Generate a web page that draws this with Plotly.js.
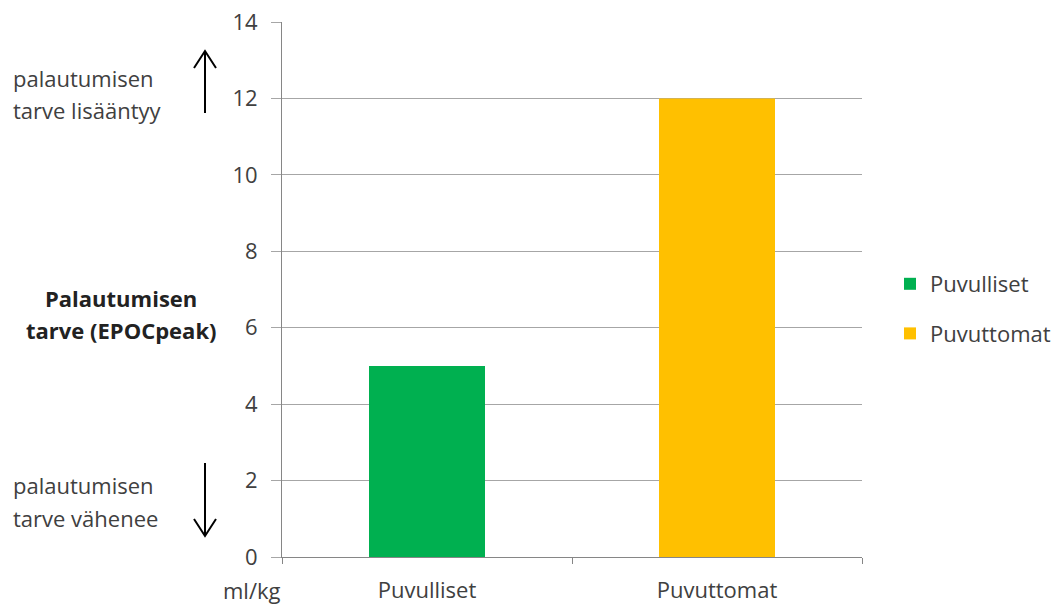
<!DOCTYPE html>
<html>
<head>
<meta charset="utf-8">
<script src="https://cdn.plot.ly/plotly-3.0.1.min.js"></script>
<style>
  html, body { margin: 0; padding: 0; background: #fff; }
  #chart { width: 1064px; height: 605px; }
</style>
</head>
<body>
<div id="chart"></div>
<script>
// EPOCpeak (ml/kg) by group
const categories = ['Puvulliset', 'Puvuttomat'];
const epocValues = [5, 12];
const seriesNames = ['Puvulliset', 'Puvuttomat'];
const seriesColors = ['#00B050', '#FFC000'];
const yTicks = [0, 2, 4, 6, 8, 10, 12, 14];

// plot area in pixels, used to place the side notes and arrows
const PL = 282, PR = 862, PT = 22, PB = 557;
const px = v => (v - PL) / (PR - PL);
const py = v => (PB - v) / (PB - PT);

const FONT = '"Open Sans", "Liberation Sans", sans-serif';
const TXT = '#404040';
const FS = 22;

const traces = categories.map((c, i) => ({
  type: 'bar',
  x: [c],
  y: [epocValues[i]],
  name: seriesNames[i],
  legendgroup: 'g' + i,
  marker: { color: seriesColors[i], line: { width: 0 } },
  width: 0.4,
  hoverinfo: 'x+y'
}));

function note(text, x, y, anchor, bold) {
  return {
    xref: 'paper', yref: 'paper', x: px(x), y: py(y),
    xanchor: anchor, yanchor: 'middle', showarrow: false,
    text: bold ? '<b>' + text + '</b>' : text,
    font: { family: FONT, size: FS, color: bold ? '#222' : TXT }
  };
}

function arrowShapes(x, yTail, yHead) {
  const dir = yHead < yTail ? 1 : -1;
  const hy = yHead + dir * 17;
  const line = { color: '#000', width: 2 };
  return [
    { type: 'line', xref: 'paper', yref: 'paper', x0: px(x), x1: px(x), y0: py(yTail), y1: py(yHead), line },
    { type: 'path', xref: 'paper', yref: 'paper',
      path: `M${px(x - 11)},${py(hy)} L${px(x)},${py(yHead)} L${px(x + 11)},${py(hy)}`, line }
  ];
}

const layout = {
  width: 1064, height: 605,
  margin: { l: PL, r: 1064 - PR, t: PT, b: 605 - PB, autoexpand: false },
  paper_bgcolor: '#fff', plot_bgcolor: '#fff',
  font: { family: FONT, size: FS, color: TXT },
  barmode: 'overlay',
  showlegend: true,
  legend: {
    x: px(890), xanchor: 'left', y: py(309), yanchor: 'middle',
    font: { family: FONT, size: FS, color: TXT },
    tracegroupgap: 18, bgcolor: 'rgba(0,0,0,0)'
  },
  xaxis: {
    type: 'category', categoryorder: 'array', categoryarray: categories,
    showline: true, linecolor: '#868686', linewidth: 1,
    ticks: 'outside', tickson: 'boundaries', ticklen: 6, tickcolor: '#868686',
    showgrid: false, zeroline: false,
    ticklabelstandoff: 14,
    tickfont: { family: FONT, size: FS, color: TXT }
  },
  yaxis: {
    range: [0, 14], tickvals: yTicks, ticktext: yTicks.map(String),
    showline: true, linecolor: '#868686', linewidth: 1,
    ticks: 'outside', ticklen: 10, tickcolor: '#a6a6a6',
    showgrid: true, gridcolor: '#a6a6a6', gridwidth: 1,
    zeroline: false,
    ticklabelstandoff: 9,
    tickfont: { family: FONT, size: FS, color: TXT }
  },
  annotations: [
    note('palautumisen', 11, 78, 'left'),
    note('tarve lisääntyy', 11, 110, 'left'),
    note('Palautumisen', 121, 298, 'center', true),
    note('tarve (EPOCpeak)', 121, 330, 'center', true),
    note('palautumisen', 11, 485, 'left'),
    note('tarve vähenee', 11, 518, 'left'),
    note('ml/kg', 252, 590, 'center')
  ],
  shapes: [
    ...arrowShapes(205, 113, 51),
    ...arrowShapes(205, 463, 536)
  ]
};

Plotly.newPlot('chart', traces, layout, { displayModeBar: false, staticPlot: true });
</script>
</body>
</html>
